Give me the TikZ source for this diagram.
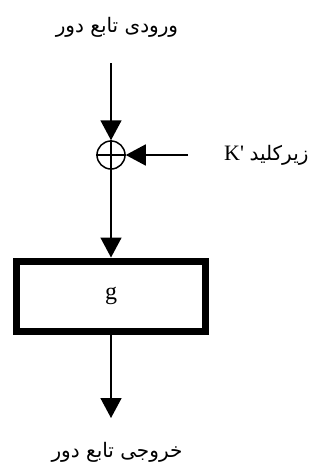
\documentclass[tikz,border=0pt]{standalone}
\usepackage{fontspec}
\setmainfont{Liberation Serif}
\newfontfamily\kfont{Liberation Serif}
\newfontfamily\arabicfont[Script=Arabic]{DejaVu Sans}
\TeXXeTstate=1
\usetikzlibrary{arrows.meta}
\begin{document}
\begin{tikzpicture}[x=1pt,y=-1pt,
  conn/.style={line width=1.6pt,-{Triangle[width=21pt,length=20pt]}},
  fa/.style={font=\arabicfont\fontsize{20}{22}\selectfont, inner sep=0pt},
  xorc/.style={circle,draw,line width=1.5pt,minimum size=28pt,inner sep=0pt},
  gbox/.style={draw,line width=7pt,minimum width=189pt,minimum height=70pt,inner sep=0pt,font=\fontsize{24}{26}\selectfont}]
\useasboundingbox (0,0) rectangle (321,466);
\node[fa] (in) at (117,27) {\beginR ورودی تابع دور\endR};
\coordinate (intop) at (111,63);
\node[xorc] (x) at (111,155) {};
\draw[line width=1.5pt] (x.north) -- (x.south) (x.west) -- (x.east);
\coordinate (kstart) at (188,155);
\node[inner sep=0pt,anchor=west] (k) at (224,155) {\kfont\fontsize{22}{24}\selectfont K'\ {\arabicfont\fontsize{20}{22}\selectfont\beginR زیرکلید\endR}};
\node[gbox] (g) at (111,296) {g};
\coordinate (outend) at (111,418);
\node[fa] (out) at (117,452) {\beginR خروجی تابع دور\endR};
\draw[conn] (intop) -- (x.north);
\draw[conn] (kstart) -- (x.east);
\draw[conn] (x.south) -- (g.north);
\draw[conn] (g.south) -- (outend);
\end{tikzpicture}
\end{document}
